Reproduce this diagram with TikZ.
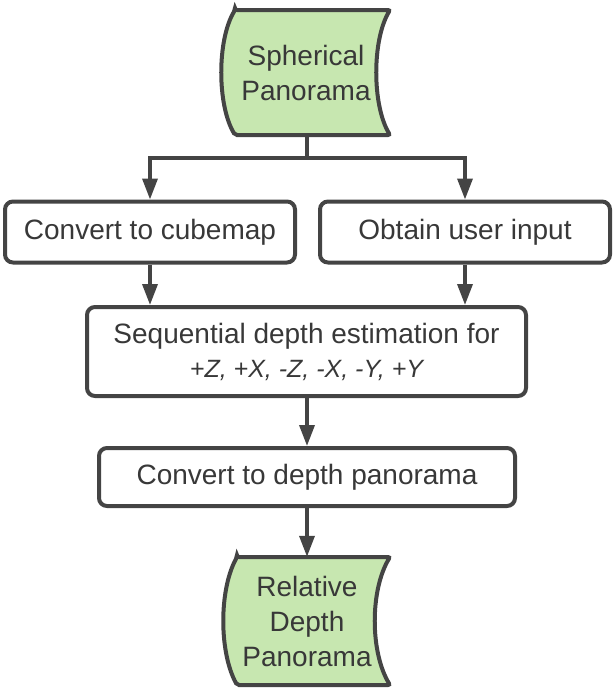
\documentclass[tikz,border=0pt]{standalone}
\usepackage{fontspec}
\setmainfont{Liberation Sans}
\usetikzlibrary{arrows.meta}
\definecolor{linecol}{HTML}{444444}
\definecolor{txtcol}{HTML}{383838}
\definecolor{greenfill}{HTML}{C7E7B0}
\tikzset{
  procbox/.style={draw=linecol, line width=4pt, rounded corners=8pt, fill=white,
    inner sep=0pt, align=center, text=txtcol, font=\fontsize{28}{35}\selectfont},
  datashape/.style={draw=linecol, line width=4pt, fill=greenfill, rounded corners=2pt},
  datatext/.style={inner sep=0pt, align=center, text=txtcol, font=\fontsize{28}{35}\selectfont},
  arr/.style={draw=linecol, line width=3.5pt, -{Triangle[length=21pt,width=15pt]}}
}
\begin{document}
\begin{tikzpicture}[x=1pt,y=-1pt]
\useasboundingbox (0,0) rectangle (615,691);
% top data shape
\path[datashape] (235,10) -- (390,10) .. controls (372,40) and (372,105) .. (390,135)
  -- (235,135) .. controls (217,105) and (217,40) .. (235,10) -- cycle;
\node[datatext, minimum height=125pt, minimum width=168pt] (sph) at (306,72.5) {Spherical\\Panorama};
% bottom data shape
\path[datashape] (237,557) -- (390,557) .. controls (370,590) and (370,652) .. (390,685)
  -- (237,685) .. controls (219,652) and (219,590) .. (237,557) -- cycle;
\node[datatext, minimum height=128pt, minimum width=167pt] (rel) at (307,621) {Relative\\Depth\\Panorama};
% boxes
\node[procbox, minimum width=290pt, minimum height=61pt] (cube) at (150,232) {Convert to cubemap};
\node[procbox, minimum width=290pt, minimum height=61pt] (user) at (465,232) {Obtain user input};
\node[procbox, minimum width=439pt, minimum height=89pt] (seq) at (306.5,351.5)
  {Sequential depth estimation for\\[-1pt]{\fontsize{25}{30}\selectfont\itshape +Z, +X, -Z, -X, -Y, +Y}};
\node[procbox, minimum width=416pt, minimum height=58pt] (dep) at (307,477) {Convert to depth panorama};
% connectors
\coordinate (split) at (307,158);
\draw[linecol, line width=3.5pt] (sph.south -| split) -- (split);
\draw[arr] (split) -| (cube.north);
\draw[arr] (split) -| (user.north);
\draw[arr] (cube.south) -- (cube.south |- seq.north);
\draw[arr] (user.south) -- (user.south |- seq.north);
\draw[arr] (seq.south -| dep.north) -- (dep.north);
\draw[arr] (dep.south) -- (rel.north);
\end{tikzpicture}
\end{document}
